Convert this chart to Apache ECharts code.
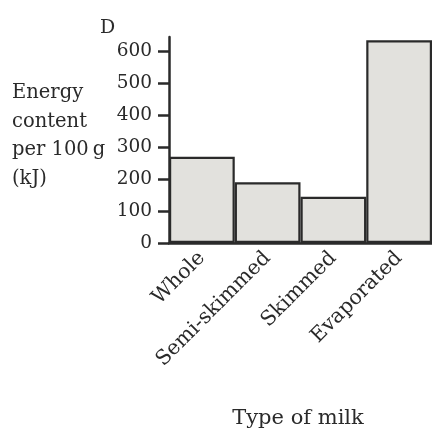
<!DOCTYPE html>
<html><head><meta charset="utf-8">
<script src="https://cdn.jsdelivr.net/npm/echarts@6/dist/echarts.min.js"></script>
<style>html,body{margin:0;padding:0;background:#fff}#c{width:432px;height:432px}</style>
</head><body><div id="c"></div>
<script>
var categories = ['Whole', 'Semi-skimmed', 'Skimmed', 'Evaporated'];
var energy = [270, 190, 145, 635];
var yTicks = [0, 100, 200, 300, 400, 500, 600];
var yAxisTitle = 'Energy\ncontent\nper 100\u2009g\n(kJ)';
var xAxisTitle = 'Type of milk';
var panelLabel = 'D';

var FONT = 'DejaVu Serif';
var INK = '#2a2a2a';
var chart = echarts.init(document.getElementById('c'));
chart.setOption({
  animation: false,
  backgroundColor: '#fff',
  title: [
    {text: panelLabel, left: 100, top: 18, padding: 0, textStyle: {fontFamily: FONT, fontSize: 19, fontWeight: 'normal', color: INK, lineHeight: 20}},
    {text: yAxisTitle, left: 12, top: 79, padding: 0, textStyle: {fontFamily: FONT, fontSize: 19.5, fontWeight: 'normal', color: INK, lineHeight: 28.5}},
    {text: xAxisTitle, left: 298, top: 409, padding: 0, textAlign: 'center', textStyle: {fontFamily: FONT, fontSize: 21, fontWeight: 'normal', color: INK, lineHeight: 20}}
  ],
  grid: {left: 169, top: 37, width: 264, bottom: 189, containLabel: false},
  xAxis: {
    type: 'category', data: categories,
    axisLine: {lineStyle: {color: INK, width: 2.5}},
    axisTick: {show: false},
    axisLabel: {rotate: 45, margin: 12, fontFamily: FONT, fontSize: 20.5, color: INK, interval: 0}
  },
  yAxis: {
    type: 'value', min: 0, max: 645,
    splitLine: {show: false},
    axisLine: {show: true, lineStyle: {color: INK, width: 2.5}},
    axisTick: {show: true, length: 11, customValues: yTicks, lineStyle: {color: INK, width: 2.5}},
    axisLabel: {customValues: yTicks, margin: 17, fontFamily: FONT, fontSize: 18.5, color: INK, padding: [9, 0, 0, 0]}
  },
  series: [{
    type: 'bar', data: energy, barCategoryGap: 0, barGap: 0,
    itemStyle: {color: '#e2e1dd', borderColor: INK, borderWidth: 2.2}
  }]
});
</script></body></html>
